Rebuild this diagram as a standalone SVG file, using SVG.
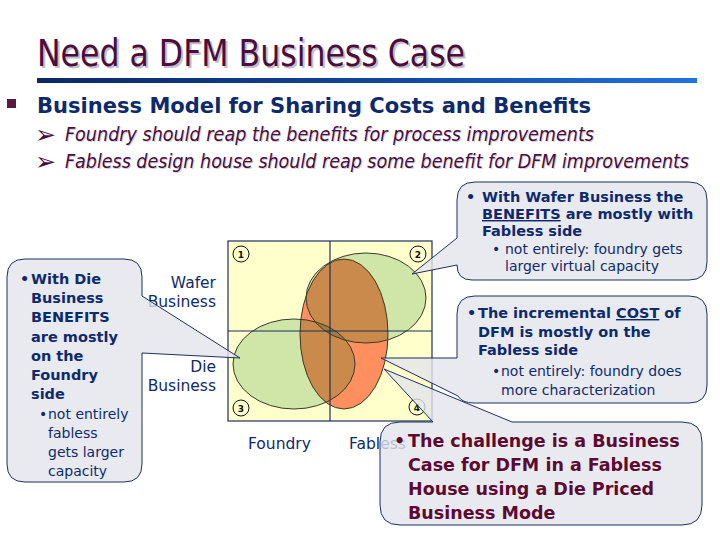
<svg xmlns="http://www.w3.org/2000/svg" width="720" height="540" viewBox="0 0 720 540">
<defs>
<linearGradient id="bar" x1="0" y1="0" x2="1" y2="0">
<stop offset="0" stop-color="#0C2766"/>
<stop offset="0.55" stop-color="#14489F"/>
<stop offset="1" stop-color="#1F72E6"/>
</linearGradient>
<clipPath id="clipOrange"><ellipse cx="344" cy="334" rx="44" ry="75"/></clipPath>
<clipPath id="clipA"><ellipse cx="366" cy="298" rx="60" ry="45"/></clipPath>
<style>
.ttl{font-family:"DejaVu Sans",Verdana,sans-serif;font-size:37px;fill:#4A0D3C}
.ttlsh{font-family:"DejaVu Sans",Verdana,sans-serif;font-size:37px;fill:#C4BECC}
.hdr{font-family:"DejaVu Sans",Verdana,sans-serif;font-size:21px;font-weight:bold;fill:#0E2A6B}
.it{font-family:"DejaVu Sans",Verdana,sans-serif;font-size:19px;font-style:italic;fill:#4A0D3C}
.itsh{font-family:"DejaVu Sans",Verdana,sans-serif;font-size:19px;font-style:italic;fill:#D3CED9}
.arr{font-family:"DejaVu Sans",sans-serif;font-size:25px;fill:#4A0D3C}
.cb{font-family:"DejaVu Sans",Verdana,sans-serif;font-size:14.5px;font-weight:bold;fill:#0E2A6B}
.cr{font-family:"DejaVu Sans",Verdana,sans-serif;font-size:14px;fill:#0E2A6B}
.cm{font-family:"DejaVu Sans",Verdana,sans-serif;font-size:17.5px;font-weight:bold;fill:#5C0A32}
.lbl{font-family:"DejaVu Sans",Verdana,sans-serif;font-size:15.5px;fill:#0E2A6B}
.num{font-family:"DejaVu Sans",sans-serif;font-size:9px;font-weight:bold;fill:#111;text-anchor:middle}
.numc{fill:none;stroke:#111;stroke-width:1}
.call{fill:#E4E5EC;fill-opacity:0.8;stroke:#1F2F5F;stroke-width:1}
.ell{fill:none;stroke:#3A3A2A;stroke-width:1}
.gl{stroke:#1F2F5F;stroke-width:1.2;fill:none}
</style>
</defs>
<rect width="720" height="540" fill="#FFFFFF"/>

<g id="title">
<text class="ttlsh" x="39" y="68" textLength="428" lengthAdjust="spacingAndGlyphs">Need a DFM Business Case</text>
<text class="ttl" x="37" y="66" textLength="428" lengthAdjust="spacingAndGlyphs">Need a DFM Business Case</text>
<rect x="37" y="78" width="660" height="5" fill="url(#bar)"/>
</g>

<g id="header">
<rect x="7" y="99" width="9" height="9" fill="#5A1844"/>
<text class="hdr" x="37" y="113" textLength="554" lengthAdjust="spacingAndGlyphs">Business Model for Sharing Costs and Benefits</text>
<text class="arr" x="35" y="143">➢</text>
<text class="itsh" x="66" y="142" textLength="529" lengthAdjust="spacingAndGlyphs">Foundry should reap the benefits for process improvements</text>
<text class="it" x="65" y="141" textLength="529" lengthAdjust="spacingAndGlyphs">Foundry should reap the benefits for process improvements</text>
<text class="arr" x="35" y="170">➢</text>
<text class="itsh" x="66" y="169" textLength="624" lengthAdjust="spacingAndGlyphs">Fabless design house should reap some benefit for DFM improvements</text>
<text class="it" x="65" y="168" textLength="624" lengthAdjust="spacingAndGlyphs">Fabless design house should reap some benefit for DFM improvements</text>
</g>

<g id="venn">
<rect x="228" y="241" width="204" height="180" fill="#FFFFCC"/>
<ellipse cx="366" cy="298" rx="60" ry="45" fill="#D0E5A8"/>
<ellipse cx="294" cy="364" rx="61" ry="45" fill="#D0E5A8"/>
<ellipse cx="344" cy="334" rx="44" ry="75" fill="#FF8F5E"/>
<g clip-path="url(#clipOrange)">
<ellipse cx="366" cy="298" rx="60" ry="45" fill="#C98A4B"/>
<ellipse cx="294" cy="364" rx="61" ry="45" fill="#C98A4B"/>
<g clip-path="url(#clipA)"><ellipse cx="294" cy="364" rx="61" ry="45" fill="#A47B3C"/></g>
</g>
<ellipse class="ell" cx="366" cy="298" rx="60" ry="45"/>
<ellipse class="ell" cx="294" cy="364" rx="61" ry="45"/>
<ellipse class="ell" cx="344" cy="334" rx="44" ry="75"/>
<rect class="gl" x="228" y="241" width="204" height="180"/>
<line class="gl" x1="330" y1="241" x2="330" y2="421"/>
<line class="gl" x1="228" y1="331" x2="432" y2="331"/>
</g>

<g id="n1"><circle class="numc" cx="241" cy="254" r="8"/><text class="num" x="241" y="257.5">1</text></g>
<g id="n2"><circle class="numc" cx="418" cy="254" r="8"/><text class="num" x="418" y="257.5">2</text></g>
<g id="n3"><circle class="numc" cx="241" cy="408" r="8"/><text class="num" x="241" y="411.5">3</text></g>
<g id="n4"><circle class="numc" cx="417" cy="407" r="8"/><text class="num" x="417" y="410.5">4</text></g>

<g id="labels">
<text class="lbl" x="216" y="288" text-anchor="end">Wafer</text>
<text class="lbl" x="216" y="307" text-anchor="end">Business</text>
<text class="lbl" x="216" y="372" text-anchor="end">Die</text>
<text class="lbl" x="216" y="391" text-anchor="end">Business</text>
<text class="lbl" x="248" y="449">Foundry</text>
<text class="lbl" x="349" y="449">Fabless</text>
</g>

<g id="callout-die">
<path class="call" d="M25,259 H124 Q142,259 142,277 V296 L240,358 L142,353 V464 Q142,482 124,482 H25 Q7,482 7,464 V277 Q7,259 25,259 Z"/>
<text class="cb" x="20" y="284">•</text>
<text class="cb" x="31" y="284">With Die</text>
<text class="cb" x="31" y="303">Business</text>
<text class="cb" x="31" y="322">BENEFITS</text>
<text class="cb" x="31" y="342">are mostly</text>
<text class="cb" x="31" y="361">on the</text>
<text class="cb" x="31" y="380">Foundry</text>
<text class="cb" x="31" y="399">side</text>
<text class="cr" x="39" y="419">•</text>
<text class="cr" x="48" y="419">not entirely</text>
<text class="cr" x="48" y="438">fabless</text>
<text class="cr" x="48" y="457">gets larger</text>
<text class="cr" x="48" y="476">capacity</text>
</g>

<g id="callout-wafer">
<path class="call" d="M475,182 H689 Q707,182 707,200 V262 Q707,280 689,280 H472 Q457,280 457,265 L412,274 L457,238 V200 Q457,182 475,182 Z"/>
<text class="cb" x="466" y="202">•</text>
<text class="cb" x="482" y="202">With Wafer Business the</text>
<text class="cb" x="482" y="219"><tspan text-decoration="underline">BENEFITS</tspan> are mostly with</text>
<text class="cb" x="482" y="236">Fabless side</text>
<text class="cr" x="492" y="254">•</text>
<text class="cr" x="505" y="254">not entirely: foundry gets</text>
<text class="cr" x="505" y="271">larger virtual capacity</text>
</g>

<g id="callout-cost">
<path class="call" d="M475,296 H689 Q707,296 707,314 V385 Q707,403 689,403 H474 Q462,403 458,396 L381,358 H457 V314 Q457,296 475,296 Z"/>
<text class="cb" x="467" y="318">•</text>
<text class="cb" x="478" y="318">The incremental <tspan text-decoration="underline">COST</tspan> of</text>
<text class="cb" x="478" y="337">DFM is mostly on the</text>
<text class="cb" x="478" y="355">Fabless side</text>
<text class="cr" x="492" y="376">•</text>
<text class="cr" x="501" y="376">not entirely: foundry does</text>
<text class="cr" x="501" y="395">more characterization</text>
</g>

<g id="callout-challenge">
<path class="call" d="M400,422 H433 L384,369 L512,422 H682 Q702,422 702,442 V505 Q702,525 682,525 H400 Q380,525 380,505 V442 Q380,422 400,422 Z"/>
<text class="cm" x="394" y="447">•</text>
<text class="cm" x="408" y="447">The challenge is a Business</text>
<text class="cm" x="408" y="471">Case for DFM in a Fabless</text>
<text class="cm" x="408" y="495">House using a Die Priced</text>
<text class="cm" x="408" y="519">Business Mode</text>
</g>
</svg>
